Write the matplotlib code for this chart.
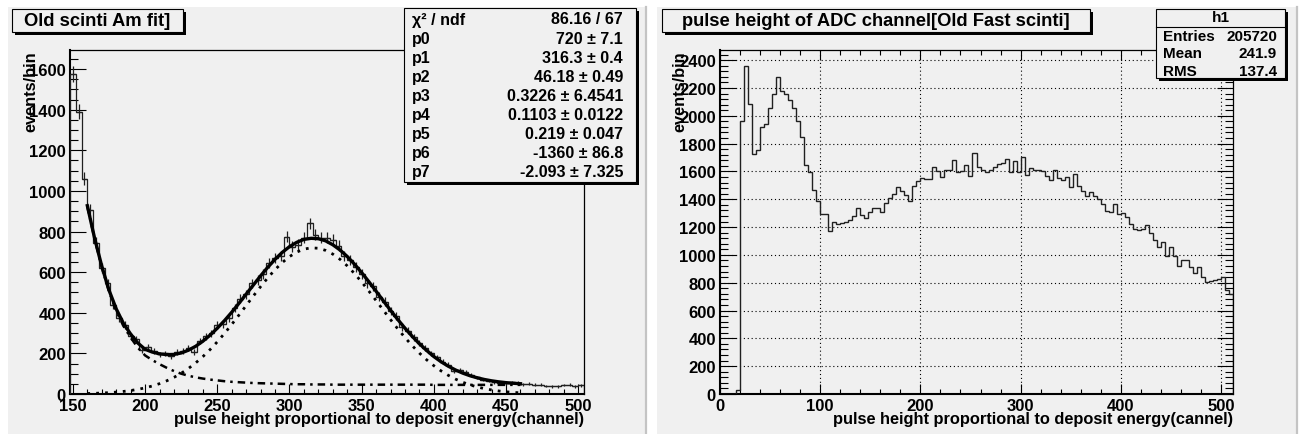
import numpy as np
import matplotlib
matplotlib.use("Agg")
import matplotlib.pyplot as plt
from matplotlib.patches import Rectangle
from matplotlib.lines import Line2D
from matplotlib.ticker import MultipleLocator
from matplotlib.transforms import Affine2D

plt.rcParams['font.family'] = ['Liberation Sans', 'DejaVu Sans']
plt.rcParams['font.weight'] = 'bold'

# --- Am spectrum of the old scintillator, 4-channel bins from 148 to 504 ---
am_edges = np.arange(148, 505, 4)
am_counts = [1575, 1390, 1060, 905, 745, 620, 545, 440, 375, 340,
             285, 270, 215, 230, 210, 195, 200, 188, 205, 212,
             225, 208, 262, 285, 300, 340, 345, 375, 425, 470,
             490, 545, 560, 590, 645, 670, 680, 775, 725, 735,
             770, 840, 785, 770, 770, 760, 730, 680, 660, 625,
             590, 545, 530, 480, 455, 410, 385, 330, 312, 280,
             250, 228, 200, 180, 160, 145, 115, 118, 110, 95,
             82, 70, 65, 58, 56, 54, 58, 55, 48, 50,
             45, 46, 40, 37, 38, 44, 46, 38, 42]

# background part of the fit, sampled every 5 channels over the fit range
fit_x = np.arange(160, 461, 5)
fit_bkg = [925, 765, 625, 505, 410, 335, 278, 228, 190, 167,
           147, 129, 113, 100, 90, 82, 76, 71, 67, 63,
           60, 58, 56, 54, 53, 52, 51, 50, 49, 48,
           48, 47, 47, 47] + [46] * 14 + [45] * 13

chi2_txt, ndf_txt = '86.16', '67'
par_names = ['p0', 'p1', 'p2', 'p3', 'p4', 'p5', 'p6', 'p7']
par_vals = ['720', '316.3', '46.18', '0.3226', '0.1103', '0.219', '-1360', '-2.093']
par_errs = ['7.1', '0.4', '0.49', '6.4541', '0.0122', '0.047', '86.8', '7.325']

# --- ADC spectrum of the old fast scintillator, 4-channel bins from 0 to 512 ---
adc_edges = np.arange(0, 513, 4)
adc_counts = [0, 0, 0, 0, 28, 1965, 2356, 2083, 1723, 1752,
              1917, 1941, 2054, 2160, 2277, 2175, 2157, 2113, 2054, 1965,
              1850, 1645, 1593, 1467, 1385, 1294, 1294, 1170, 1234, 1220,
              1230, 1236, 1253, 1282, 1335, 1287, 1268, 1306, 1340, 1340,
              1306, 1373, 1407, 1438, 1491, 1462, 1434, 1388, 1494, 1534,
              1556, 1548, 1546, 1630, 1606, 1558, 1613, 1613, 1685, 1594,
              1606, 1646, 1565, 1733, 1630, 1613, 1594, 1613, 1630, 1654,
              1658, 1690, 1594, 1678, 1594, 1702, 1575, 1627, 1610, 1610,
              1606, 1570, 1541, 1613, 1553, 1541, 1558, 1486, 1582, 1493,
              1460, 1426, 1455, 1426, 1402, 1366, 1318, 1311, 1366, 1294,
              1301, 1275, 1225, 1188, 1180, 1186, 1215, 1158, 1109, 1055,
              1090, 994, 1060, 990, 922, 965, 965, 910, 870, 910,
              838, 807, 814, 819, 826, 838, 750, 719]
h1_rows = [('Entries', '205720'), ('Mean', '241.9'), ('RMS', '137.4')]

W, H = 1304, 435
BG = '#f0f0f0'

fig = plt.figure(figsize=(W / 100, H / 100), dpi=100, facecolor='white')
# pixel coordinates, origin at top left
px = Affine2D().scale(1 / W, -1 / H).translate(0, 1) + fig.transFigure


def rect(x0, y0, x1, y1, **kw):
    r = Rectangle((x0, y0), x1 - x0, y1 - y0, transform=px, **kw)
    fig.patches.append(r)
    return r


def pave(x0, y0, x1, y1, z=5):
    rect(x0 + 3, y0 + 3, x1 + 3, y1 + 3, facecolor='black', lw=0, zorder=z)
    rect(x0, y0, x1, y1, facecolor=BG, edgecolor='black', lw=0.8, zorder=z + 0.1)


def put(x, y, s, size, ha='left', z=6):
    fig.text(x, y, s, transform=px, ha=ha, va='center', fontsize=size,
             fontweight='bold', zorder=z)


def make_axes(x0, y0, x1, y1):
    ax = fig.add_axes([x0 / W, 1 - y1 / H, (x1 - x0) / W, (y1 - y0) / H])
    ax.set_facecolor(BG)
    ax.tick_params(which='both', direction='in', labelsize=12, width=0.8,
                   color='black')
    ax.tick_params(axis='y', which='major', length=11.5, pad=3)
    ax.tick_params(axis='y', which='minor', length=5.5)
    ax.tick_params(axis='x', which='major', length=7.2, pad=3)
    ax.tick_params(axis='x', which='minor', length=3.6)
    for side in ('bottom', 'left'):
        ax.spines[side].set_linewidth(1.5)
    for side in ('top', 'right'):
        ax.spines[side].set_linewidth(0.9)
    return ax


# pad backgrounds with a darker right border
rect(8, 8, 646, 440, facecolor=BG, lw=0, zorder=-5)
rect(657, 8, 1297, 440, facecolor=BG, lw=0, zorder=-5)
for xb in (645.5, 1296.5):
    fig.lines.append(Line2D([xb, xb], [8, 435], transform=px,
                            color='#c4c4c4', lw=1.6, zorder=-4))

# ---------------- left pad ----------------
ax1 = make_axes(70, 51, 584, 395)
am_c = np.array(am_counts, dtype=float)
am_mid = 0.5 * (am_edges[:-1] + am_edges[1:])
ax1.stairs(am_c, am_edges, color='#202020', lw=0.9, zorder=3)
ax1.errorbar(am_mid, am_c, yerr=np.sqrt(am_c), xerr=2, fmt='none',
             ecolor='#202020', elinewidth=0.9, capsize=0, zorder=3)

gauss = float(par_vals[0]) * np.exp(
    -0.5 * ((fit_x - float(par_vals[1])) / float(par_vals[2])) ** 2)
bkg = np.array(fit_bkg, dtype=float)
ax1.plot(fit_x, gauss, color='black', lw=2.0, ls=(0, (1.0, 2.2)), zorder=4)
ax1.plot(fit_x, bkg, color='black', lw=1.8, ls=(0, (3.0, 2.0, 1.0, 2.0)), zorder=4)
ax1.plot(fit_x, gauss + bkg, color='black', lw=2.4, zorder=5)

ax1.set_xlim(148, 504)
ax1.set_ylim(0, 1694)
ax1.xaxis.set_major_locator(MultipleLocator(50))
ax1.xaxis.set_minor_locator(MultipleLocator(10))
ax1.yaxis.set_major_locator(MultipleLocator(200))
ax1.yaxis.set_minor_locator(MultipleLocator(50))
ax1.text(1.0, -0.05, 'pulse height proportional to deposit energy(channel)',
         transform=ax1.transAxes, ha='right', va='top', fontsize=11.8,
         fontweight='bold')
ax1.text(-0.076, 1.0, 'events/bin', transform=ax1.transAxes, rotation=90,
         ha='center', va='top', fontsize=11.8, fontweight='bold')

pave(12, 10, 183, 33)
put(97.5, 21.5, 'Old scinti Am fit]', 13.2, ha='center')

pave(404, 9, 636, 183)
row_y = 20.0
put(412, row_y, 'χ² / ndf', 11.5)
put(623, row_y, chi2_txt + ' / ' + ndf_txt, 11.5, ha='right')
for name, v, e in zip(par_names, par_vals, par_errs):
    row_y += 19.1
    put(412, row_y, name, 11.5)
    put(623, row_y, v + ' ± ' + e, 11.5, ha='right')

# ---------------- right pad ----------------
ax2 = make_axes(720, 51, 1233, 395)
ax2.grid(True, which='major', color='black', lw=0.8, ls=(0, (1, 2.5)))
ax2.set_axisbelow(True)
ax2.stairs(adc_counts, adc_edges, color='#202020', lw=1.0, zorder=3)
ax2.set_xlim(0, 512)
ax2.set_ylim(0, 2473)
ax2.xaxis.set_major_locator(MultipleLocator(100))
ax2.xaxis.set_minor_locator(MultipleLocator(20))
ax2.yaxis.set_major_locator(MultipleLocator(200))
ax2.yaxis.set_minor_locator(MultipleLocator(40))
ax2.tick_params(which='both', top=True, right=True)
ax2.text(1.0, -0.05, 'pulse height proportional to deposit energy(cannel)',
         transform=ax2.transAxes, ha='right', va='top', fontsize=11.8,
         fontweight='bold')
ax2.text(-0.078, 1.0, 'events/bin', transform=ax2.transAxes, rotation=90,
         ha='center', va='top', fontsize=11.8, fontweight='bold')

pave(662, 10, 1090, 33)
put(876, 21.5, 'pulse height of ADC channel[Old Fast scinti]', 13.2, ha='center')

pave(1156, 10, 1285, 79)
fig.lines.append(Line2D([1156, 1285], [28, 28], transform=px, color='black',
                        lw=0.8, zorder=5.5))
put(1220.5, 18.5, 'h1', 11, ha='center')
for i, (lab, val) in enumerate(h1_rows):
    put(1163, 37 + 17.4 * i, lab, 11)
    put(1277, 37 + 17.4 * i, val, 11, ha='right')

fig.savefig('out.png', dpi=100)
